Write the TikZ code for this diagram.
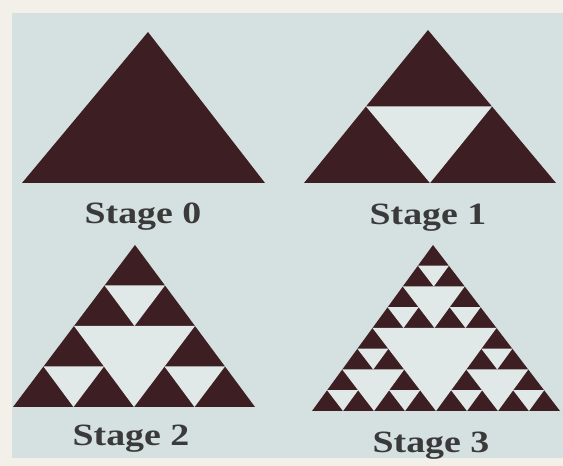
\documentclass[tikz,border=0pt]{standalone}
\usepackage{fontspec}
\setmainfont{Liberation Serif}
\definecolor{paper}{HTML}{F3F0EA}
\definecolor{panel}{HTML}{D5E1E0}
\definecolor{holec}{HTML}{E0E9E8}
\definecolor{tri}{HTML}{3D1E22}
\definecolor{ink}{HTML}{3A3A3A}
\newcommand{\sierhole}[3]{%
  \fill[holec] ({#1+#3/2},{#2}) -- ({#1+#3/2},{#2+#3/2}) -- ({#1},{#2+#3/2}) -- cycle;}
\tikzset{
  stagelabel/.style={text=ink, font=\fontsize{31}{32}\selectfont\bfseries, inner sep=0pt, xscale=1.22},
}
\begin{document}
\begin{tikzpicture}[x=1pt,y=1pt]
\useasboundingbox (0,0) rectangle (563,466);
\fill[paper] (0,0) rectangle (563,466);
\fill[panel] (12,8) rectangle (563,453);
% Stage 0
\begin{scope}[shift={(22pt,283pt)}, x={(243pt,0pt)}, y={(126pt,151pt)}]
  \fill[tri] (0,0) -- (1,0) -- (0,1) -- cycle;
\end{scope}
% Stage 1
\begin{scope}[shift={(304pt,283pt)}, x={(252pt,0pt)}, y={(124pt,153pt)}]
  \fill[tri] (0,0) -- (1,0) -- (0,1) -- cycle;
  \sierhole{0}{0}{1}
\end{scope}
% Stage 2
\begin{scope}[shift={(13pt,59pt)}, x={(242pt,0pt)}, y={(122pt,162pt)}]
  \fill[tri] (0,0) -- (1,0) -- (0,1) -- cycle;
  \sierhole{0}{0}{1}
  \foreach \ox/\oy in {0/0,0.5/0,0/0.5} {\sierhole{\ox}{\oy}{0.5}}
\end{scope}
% Stage 3
\begin{scope}[shift={(312pt,55pt)}, x={(248pt,0pt)}, y={(121pt,166pt)}]
  \fill[tri] (0,0) -- (1,0) -- (0,1) -- cycle;
  \sierhole{0}{0}{1}
  \foreach \ox/\oy in {0/0,0.5/0,0/0.5} {\sierhole{\ox}{\oy}{0.5}}
  \foreach \ox/\oy in {0/0,0.25/0,0/0.25,0.5/0,0.75/0,0.5/0.25,0/0.5,0.25/0.5,0/0.75} {\sierhole{\ox}{\oy}{0.25}}
\end{scope}
\node[stagelabel] (s0) at (143,249) {Stage 0};
\node[stagelabel] (s1) at (428,248) {Stage 1};
\node[stagelabel] (s2) at (131,27) {Stage 2};
\node[stagelabel] (s3) at (431,20) {Stage 3};
\end{tikzpicture}
\end{document}
